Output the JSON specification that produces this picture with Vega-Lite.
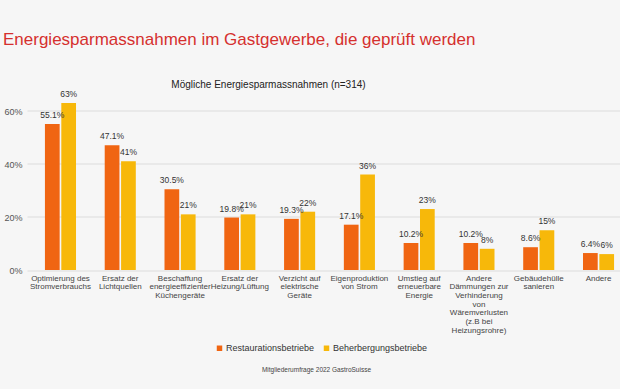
{
  "$schema": "https://vega.github.io/schema/vega-lite/v6.json",
  "autosize": "none",
  "width": 593,
  "height": 185.5,
  "padding": {"left": 27, "top": 84.5, "right": 0, "bottom": 119},
  "background": "#f6f6f6",
  "config": {
    "view": {"stroke": null},
    "font": "Liberation Sans"
  },
  "title": {
    "text": "Energiesparmassnahmen im Gastgewerbe, die geprüft werden",
    "anchor": "start",
    "frame": "group",
    "dx": -24,
    "offset": 30,
    "fontSize": 17,
    "fontWeight": "normal",
    "color": "#D5302E",
    "font": "Liberation Sans"
  },
  "data": {
    "values": [
      {"category": "Optimierung des|Stromverbrauchs", "series": "Restaurationsbetriebe", "value": 0.551},
      {"category": "Optimierung des|Stromverbrauchs", "series": "Beherbergungsbetriebe", "value": 0.63},
      {"category": "Ersatz der|Lichtquellen", "series": "Restaurationsbetriebe", "value": 0.471},
      {"category": "Ersatz der|Lichtquellen", "series": "Beherbergungsbetriebe", "value": 0.41},
      {"category": "Beschaffung|energieeffizienter|Küchengeräte", "series": "Restaurationsbetriebe", "value": 0.305},
      {"category": "Beschaffung|energieeffizienter|Küchengeräte", "series": "Beherbergungsbetriebe", "value": 0.21},
      {"category": "Ersatz der|Heizung/Lüftung", "series": "Restaurationsbetriebe", "value": 0.198},
      {"category": "Ersatz der|Heizung/Lüftung", "series": "Beherbergungsbetriebe", "value": 0.21},
      {"category": "Verzicht auf|elektrische|Geräte", "series": "Restaurationsbetriebe", "value": 0.193},
      {"category": "Verzicht auf|elektrische|Geräte", "series": "Beherbergungsbetriebe", "value": 0.22},
      {"category": "Eigenproduktion|von Strom", "series": "Restaurationsbetriebe", "value": 0.171},
      {"category": "Eigenproduktion|von Strom", "series": "Beherbergungsbetriebe", "value": 0.36},
      {"category": "Umstieg auf|erneuerbare|Energie", "series": "Restaurationsbetriebe", "value": 0.102},
      {"category": "Umstieg auf|erneuerbare|Energie", "series": "Beherbergungsbetriebe", "value": 0.23},
      {"category": "Andere|Dämmungen zur|Verhinderung|von|Wäremverlusten|(z.B bei|Heizungsrohre)", "series": "Restaurationsbetriebe", "value": 0.102},
      {"category": "Andere|Dämmungen zur|Verhinderung|von|Wäremverlusten|(z.B bei|Heizungsrohre)", "series": "Beherbergungsbetriebe", "value": 0.08},
      {"category": "Gebäudehülle|sanieren", "series": "Restaurationsbetriebe", "value": 0.086},
      {"category": "Gebäudehülle|sanieren", "series": "Beherbergungsbetriebe", "value": 0.15},
      {"category": "Andere", "series": "Restaurationsbetriebe", "value": 0.064},
      {"category": "Andere", "series": "Beherbergungsbetriebe", "value": 0.06}
    ]
  },
  "encoding": {
    "x": {
      "field": "category",
      "type": "nominal",
      "sort": null,
      "scale": {"range": [0, 605], "paddingInner": 0.48, "paddingOuter": 0.3}
    },
    "xOffset": {
      "field": "series",
      "type": "nominal",
      "sort": ["Restaurationsbetriebe", "Beherbergungsbetriebe"],
      "scale": {"paddingInner": 0.1}
    },
    "y": {
      "field": "value",
      "type": "quantitative",
      "scale": {"domain": [0, 0.7]},
      "axis": {
        "values": [0, 0.2, 0.4, 0.6],
        "format": ".0%",
        "title": null,
        "domain": false,
        "ticks": false,
        "labelPadding": 5,
        "labelFontSize": 9,
        "labelColor": "#555555",
        "gridColor": "#dcdcdc"
      }
    }
  },
  "layer": [
    {
      "mark": {"type": "bar"},
      "encoding": {
        "x": {
          "field": "category",
          "type": "nominal",
          "sort": null,
          "axis": {
            "orient": "bottom",
            "labelAngle": 0,
            "labelExpr": "split(datum.label, '|')",
            "labelFontSize": 8,
            "labelLineHeight": 8.7,
            "labelColor": "#444444",
            "labelPadding": 4,
            "labelBaseline": "top",
            "ticks": false,
            "domain": false,
            "labelLimit": 0,
            "title": "Mitgliederumfrage 2022 GastroSuisse",
            "titleFontSize": 6.5,
            "titleFontWeight": "normal",
            "titleColor": "#444444",
            "titleX": 289,
            "titleY": 101,
            "titleBaseline": "alphabetic"
          }
        },
        "color": {
          "field": "series",
          "type": "nominal",
          "sort": ["Restaurationsbetriebe", "Beherbergungsbetriebe"],
          "scale": {"domain": ["Restaurationsbetriebe", "Beherbergungsbetriebe"], "range": ["#F06512", "#F7B80A"]},
          "legend": {
            "orient": "none",
            "legendX": 188,
            "legendY": 259,
            "direction": "horizontal",
            "title": null,
            "symbolType": "square",
            "symbolSize": 30,
            "labelFontSize": 9,
            "labelColor": "#333333",
            "labelOffset": 2,
            "columnPadding": 7
          }
        }
      }
    },
    {
      "transform": [{"filter": "datum.series === 'Restaurationsbetriebe'"}],
      "mark": {"type": "text", "baseline": "bottom", "dy": -4, "fontSize": 8.5, "color": "#333333"},
      "encoding": {
        "x": {
          "field": "category",
          "type": "nominal",
          "sort": null,
          "axis": {
            "orient": "top",
            "labels": false,
            "ticks": false,
            "domain": false,
            "grid": false,
            "title": "Mögliche Energiesparmassnahmen (n=314)",
            "titleFontSize": 10,
            "titleFontWeight": "normal",
            "titleColor": "#222222",
            "titleX": 241,
            "titleY": 2.5,
            "titleBaseline": "alphabetic"
          }
        },
        "text": {"field": "value", "type": "quantitative", "format": ".1%"}
      }
    },
    {
      "transform": [{"filter": "datum.series === 'Beherbergungsbetriebe'"}],
      "mark": {"type": "text", "baseline": "bottom", "dy": -4, "fontSize": 8.5, "color": "#333333"},
      "encoding": {
        "x": {"field": "category", "type": "nominal", "sort": null, "axis": null},
        "text": {"field": "value", "type": "quantitative", "format": ".0%"}
      }
    }
  ],
  "resolve": {"axis": {"x": "independent"}}
}
